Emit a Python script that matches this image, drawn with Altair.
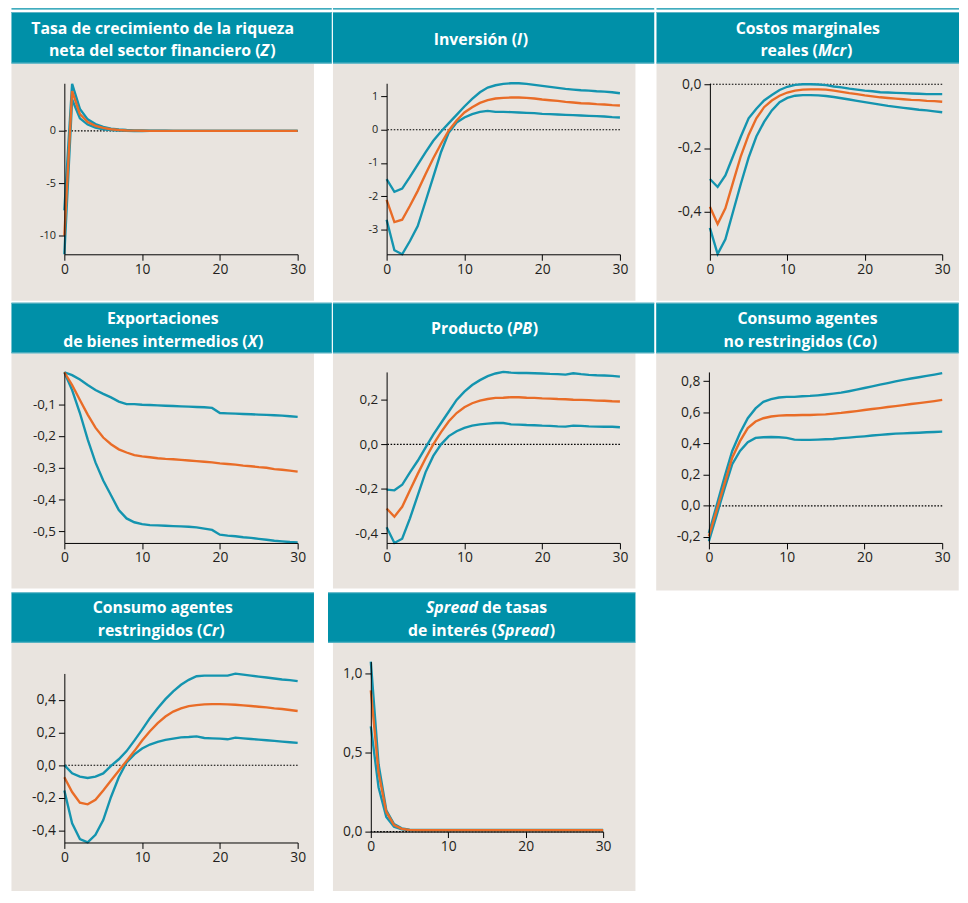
import altair as alt
import pandas as pd

T = list(range(31))

# ---- Tasa de crecimiento de la riqueza neta (Z)
Z_up = [-7.6, 4.5, 2.1, 1.1, 0.65, 0.38, 0.22, 0.13, 0.08, 0.05, 0.03, 0.02, 0.01, 0.01, 0.0, 0.0,
        0.0, 0.0, 0.0, 0.0, 0.0, 0.0, 0.0, 0.0, 0.0, 0.0, 0.0, 0.0, 0.0, 0.0, 0.0]
Z_mean = [-10.0, 3.8, 1.6, 0.85, 0.48, 0.28, 0.15, 0.08, 0.04, 0.02, 0.01, 0.0, 0.0, 0.0, 0.0, 0.0,
          0.0, 0.0, 0.0, 0.0, 0.0, 0.0, 0.0, 0.0, 0.0, 0.0, 0.0, 0.0, 0.0, 0.0, 0.0]
Z_lo = [-11.8, 3.0, 1.2, 0.6, 0.3, 0.15, 0.07, 0.02, 0.0, -0.01, -0.01, 0.0, 0.0, 0.0, 0.0, 0.0,
        0.0, 0.0, 0.0, 0.0, 0.0, 0.0, 0.0, 0.0, 0.0, 0.0, 0.0, 0.0, 0.0, 0.0, 0.0]

# ---- Inversion (I)
I_up = [-1.49, -1.87, -1.77, -1.42, -1.05, -0.68, -0.33, -0.05, 0.20, 0.45, 0.70, 0.93, 1.13, 1.27, 1.34, 1.38,
        1.40, 1.40, 1.38, 1.35, 1.32, 1.29, 1.26, 1.23, 1.21, 1.19, 1.18, 1.16, 1.15, 1.13, 1.10]
I_mean = [-2.11, -2.78, -2.71, -2.29, -1.84, -1.34, -0.86, -0.42, -0.02, 0.28, 0.52, 0.68, 0.81, 0.89, 0.94, 0.96,
          0.97, 0.97, 0.96, 0.94, 0.91, 0.89, 0.87, 0.84, 0.82, 0.80, 0.79, 0.77, 0.76, 0.74, 0.73]
I_lo = [-2.71, -3.63, -3.75, -3.35, -2.90, -2.16, -1.42, -0.67, -0.08, 0.22, 0.37, 0.47, 0.54, 0.57, 0.54, 0.54,
        0.53, 0.52, 0.51, 0.50, 0.48, 0.47, 0.46, 0.45, 0.44, 0.43, 0.42, 0.41, 0.40, 0.38, 0.37]

# ---- Costos marginales reales (Mcr)
M_up = [-0.297, -0.322, -0.286, -0.225, -0.164, -0.107, -0.077, -0.051, -0.034, -0.018, -0.008, -0.002, 0.0, 0.0,
        -0.001, -0.003, -0.007, -0.010, -0.014, -0.017, -0.020, -0.022, -0.025, -0.026, -0.027, -0.028, -0.029,
        -0.030, -0.031, -0.031, -0.031]
M_mean = [-0.384, -0.438, -0.389, -0.307, -0.225, -0.159, -0.107, -0.072, -0.051, -0.036, -0.026, -0.020, -0.017,
          -0.016, -0.016, -0.017, -0.020, -0.024, -0.028, -0.031, -0.035, -0.038, -0.041, -0.043, -0.045, -0.047,
          -0.049, -0.050, -0.052, -0.053, -0.055]
M_lo = [-0.450, -0.532, -0.486, -0.399, -0.312, -0.230, -0.164, -0.118, -0.082, -0.056, -0.043, -0.036, -0.034,
        -0.034, -0.035, -0.037, -0.040, -0.044, -0.048, -0.052, -0.056, -0.060, -0.064, -0.068, -0.071, -0.074,
        -0.077, -0.080, -0.082, -0.085, -0.088]

# ---- Exportaciones de bienes intermedios (X)
X_up = [0.0, -0.009, -0.023, -0.040, -0.056, -0.068, -0.079, -0.092, -0.100, -0.100, -0.102, -0.103, -0.104,
        -0.105, -0.106, -0.107, -0.108, -0.109, -0.110, -0.112, -0.128, -0.129, -0.130, -0.131, -0.132, -0.133,
        -0.134, -0.135, -0.136, -0.138, -0.140]
X_mean = [0.0, -0.040, -0.087, -0.133, -0.174, -0.205, -0.226, -0.242, -0.252, -0.260, -0.264, -0.267, -0.270,
          -0.272, -0.273, -0.275, -0.277, -0.279, -0.281, -0.283, -0.286, -0.288, -0.290, -0.293, -0.295, -0.298,
          -0.300, -0.304, -0.306, -0.309, -0.312]
X_lo = [0.0, -0.056, -0.128, -0.211, -0.283, -0.340, -0.386, -0.433, -0.459, -0.471, -0.477, -0.480, -0.481,
        -0.482, -0.483, -0.484, -0.485, -0.487, -0.491, -0.495, -0.510, -0.513, -0.515, -0.518, -0.520, -0.523,
        -0.526, -0.529, -0.531, -0.533, -0.534]

# ---- Producto (PB)
P_up = [-0.204, -0.207, -0.182, -0.126, -0.074, -0.015, 0.044, 0.096, 0.148, 0.200, 0.237, 0.267, 0.289, 0.307,
        0.319, 0.326, 0.323, 0.321, 0.321, 0.320, 0.319, 0.317, 0.316, 0.314, 0.320, 0.316, 0.313, 0.311, 0.310,
        0.308, 0.305]
P_mean = [-0.289, -0.326, -0.281, -0.207, -0.133, -0.064, 0.0, 0.055, 0.104, 0.141, 0.167, 0.185, 0.197, 0.204,
          0.209, 0.210, 0.212, 0.212, 0.210, 0.209, 0.207, 0.206, 0.204, 0.203, 0.201, 0.200, 0.199, 0.197, 0.196,
          0.194, 0.193]
P_lo = [-0.373, -0.444, -0.425, -0.333, -0.230, -0.126, -0.052, 0.0, 0.037, 0.059, 0.074, 0.084, 0.090, 0.093,
        0.096, 0.096, 0.090, 0.089, 0.087, 0.086, 0.084, 0.083, 0.081, 0.080, 0.084, 0.083, 0.081, 0.080, 0.079,
        0.079, 0.077]

# ---- Consumo agentes no restringidos (Co)
Co_up = [-0.175, 0.004, 0.183, 0.352, 0.467, 0.562, 0.625, 0.667, 0.684, 0.695, 0.699, 0.699, 0.703, 0.705, 0.709,
         0.714, 0.720, 0.726, 0.735, 0.745, 0.756, 0.766, 0.777, 0.787, 0.798, 0.808, 0.817, 0.825, 0.834, 0.842,
         0.851]
Co_mean = [-0.196, -0.027, 0.141, 0.309, 0.415, 0.499, 0.541, 0.562, 0.573, 0.579, 0.581, 0.581, 0.583, 0.583,
           0.585, 0.587, 0.592, 0.596, 0.602, 0.608, 0.615, 0.621, 0.627, 0.634, 0.640, 0.646, 0.653, 0.659, 0.665,
           0.672, 0.680]
Co_lo = [-0.227, -0.059, 0.109, 0.267, 0.352, 0.408, 0.436, 0.440, 0.442, 0.440, 0.436, 0.425, 0.423, 0.423, 0.425,
         0.427, 0.429, 0.434, 0.438, 0.442, 0.446, 0.451, 0.455, 0.459, 0.463, 0.465, 0.467, 0.469, 0.472, 0.474,
         0.476]

# ---- Consumo agentes restringidos (Cr)
Cr_up = [0.0, -0.050, -0.070, -0.078, -0.070, -0.050, -0.004, 0.036, 0.086, 0.150, 0.217, 0.287, 0.347, 0.403,
         0.451, 0.491, 0.521, 0.543, 0.547, 0.547, 0.547, 0.547, 0.559, 0.553, 0.547, 0.541, 0.535, 0.529, 0.523,
         0.519, 0.513]
Cr_mean = [-0.074, -0.164, -0.229, -0.239, -0.211, -0.154, -0.094, -0.034, 0.026, 0.086, 0.150, 0.207, 0.257,
           0.297, 0.327, 0.347, 0.361, 0.367, 0.371, 0.373, 0.373, 0.371, 0.369, 0.365, 0.361, 0.357, 0.353, 0.347,
           0.343, 0.337, 0.331]
Cr_lo = [-0.154, -0.355, -0.451, -0.471, -0.425, -0.335, -0.194, -0.074, 0.016, 0.066, 0.102, 0.126, 0.142, 0.154,
         0.162, 0.170, 0.172, 0.176, 0.166, 0.164, 0.162, 0.158, 0.168, 0.164, 0.160, 0.156, 0.152, 0.148, 0.144,
         0.140, 0.136]

# ---- Spread de tasas de interes (Spread)
S_up = [1.073, 0.425, 0.135, 0.048, 0.021, 0.012, 0.010, 0.010, 0.010, 0.010, 0.010, 0.010, 0.010, 0.010, 0.010,
        0.010, 0.010, 0.010, 0.010, 0.010, 0.010, 0.010, 0.010, 0.010, 0.010, 0.010, 0.010, 0.010, 0.010, 0.010,
        0.010]
S_mean = [0.892, 0.373, 0.124, 0.041, 0.017, 0.010, 0.009, 0.009, 0.009, 0.009, 0.009, 0.009, 0.009, 0.009, 0.009,
          0.009, 0.009, 0.009, 0.009, 0.009, 0.009, 0.009, 0.009, 0.009, 0.009, 0.009, 0.009, 0.009, 0.009, 0.009,
          0.009]
S_lo = [0.664, 0.280, 0.093, 0.031, 0.015, 0.008, 0.008, 0.008, 0.008, 0.008, 0.008, 0.008, 0.008, 0.008, 0.008,
        0.008, 0.008, 0.008, 0.008, 0.008, 0.008, 0.008, 0.008, 0.008, 0.008, 0.008, 0.008, 0.008, 0.008, 0.008,
        0.008]

X_TICKS = [0, 10, 20, 30]

TEAL = "#0090A8"
TEAL_EDGE = "#5FB4C5"
BEIGE = "#E9E4DF"
BLUE = "#1494AF"
ORANGE = "#E96C27"
TXT = "#231F20"
FONT = "Open Sans"

ONE = pd.DataFrame({"k": [0]})


def rect(x1, x2, y1, y2, color):
    return alt.Chart(ONE).mark_rect(color=color).encode(
        x=alt.value(x1), x2=alt.value(x2), y=alt.value(y1), y2=alt.value(y2))


def txt(s, x, y, align, italic=False):
    kw = dict(align=align, baseline="alphabetic", font=FONT, fontWeight="bold", fontSize=16, color="white")
    if italic:
        kw["fontStyle"] = "italic"
    return alt.Chart(ONE).mark_text(**kw).encode(x=alt.value(x), y=alt.value(y), text=alt.value(s))


def title_layers(lines, tx, ty):
    out = []
    for i, ln in enumerate(lines):
        y = ty + 23 * i
        kind = ln[0]
        if kind == "plain":
            out.append(txt(ln[1], tx, y, "center"))
        elif kind == "mid":      # pre | italic | post, junction xa at italic start, wi = italic width
            _, pre, ital, post, xa, wi = ln
            out.append(txt(pre, xa, y, "right"))
            out.append(txt(ital, xa, y, "left", True))
            out.append(txt(post, xa + wi, y, "left"))
        elif kind == "start":    # italic | post, junction xb at italic end
            _, ital, post, xb = ln
            out.append(txt(ital, xb, y, "right", True))
            out.append(txt(post, xb + 4.2, y, "left"))
    return out


def panel(title, up, mean, lo, ydom, yvals, dec, ysize, w, h,
          beige, header, tx, ty, topline=False, zero=True, yrange=None):
    if dec == 0:
        lab = "(datum.value < 0 ? '-' : '') + format(abs(datum.value), 'd')"
    else:
        lab = "(datum.value < 0 ? '-' : '') + replace(format(abs(datum.value), '.1f'), '.', ',')"
    yaxis = alt.Axis(values=yvals, labelExpr=lab, title=None, grid=False, domainColor="black",
                     tickColor="black", tickSize=6, domainWidth=1, tickWidth=1, labelFont=FONT,
                     labelFontSize=ysize, labelColor=TXT, labelPadding=3, labelFlush=False, zindex=1)
    xaxis = alt.Axis(values=X_TICKS, format="d", title=None, grid=False, domainColor="black",
                     tickColor="black", tickSize=6, domainWidth=1, tickWidth=1, labelFont=FONT,
                     labelFontSize=14, labelColor=TXT, labelPadding=2, labelFlush=False, zindex=1)
    xs = alt.Scale(domain=[0, 30], nice=False)
    if yrange is None:
        ys = alt.Scale(domain=ydom, nice=False, zero=False)
    else:
        ys = alt.Scale(domain=ydom, nice=False, zero=False, range=yrange)
    X = alt.X("t:Q", scale=xs, axis=xaxis)
    Y = alt.Y("v:Q", scale=ys, axis=yaxis)

    blue_df = pd.DataFrame({"t": T + T, "v": up + lo, "s": ["sup"] * len(T) + ["inf"] * len(T)})
    mean_df = pd.DataFrame({"t": T, "v": mean})

    layers = [rect(beige[0], beige[1], beige[2], beige[3], BEIGE),
              rect(header[0], header[1], header[2], header[3], TEAL),
              rect(header[0], header[1], header[2], header[2] + 1, TEAL_EDGE),
              rect(header[0], header[1], header[3] - 1, header[3], TEAL_EDGE)]
    if topline:
        layers.append(rect(header[0], header[1], header[2] - 4, header[2] - 2.5, TEAL))
    layers += title_layers(title, tx, ty)
    if zero:
        layers.append(alt.Chart(ONE).mark_rule(color="black", strokeWidth=1.1, strokeDash=[1.6, 1.6]).encode(
            y=alt.Y(datum=0, scale=ys, axis=yaxis)))
    layers.append(alt.Chart(blue_df).mark_line(color=BLUE, strokeWidth=2.4).encode(x=X, y=Y, detail="s:N"))
    layers.append(alt.Chart(mean_df).mark_line(color=ORANGE, strokeWidth=2.4).encode(x=X, y=Y))
    return alt.layer(*layers).properties(width=w, height=h)


p1 = panel([("plain", "Tasa de crecimiento de la riqueza"),
            ("mid", "neta del sector financiero (", "Z", ")", 198.5, 9.8)], Z_up, Z_mean, Z_lo,
           [-11.8, 4.55], [0, -5, -10], 0, 11, 236, 173,
           (-53.5, 252.5, -20, 220), (-53.5, 270.5, -72, -20), 99.5, -50.3, topline=True)
p2 = panel([("mid", "Inversión (", "I", ")", 132.0, 5.8)], I_up, I_mean, I_lo,
           [-3.75, 1.4], [1, 0, -1, -2, -3], 0, 11, 236, 173,
           (-54.3, 251.7, -20, 220), (-54.3, 270.7, -72, -20), 98.7, -38.7, topline=True)
p3 = panel([("plain", "Costos marginales"),
            ("mid", "reales (", "Mcr", ")", 109.3, 29.5)], M_up, M_mean, M_lo,
           [-0.533, 0.003], [0.0, -0.2, -0.4], 1, 14, 235, 173,
           (-54, 252, -20, 220), (-54, 252, -72, -20), 99, -50.3, topline=True)

p4 = panel([("plain", "Exportaciones"),
            ("mid", "de bienes intermedios (", "X", ")", 185.5, 10.3)], X_up, X_mean, X_lo,
           [-0.536, 0.001], [-0.1, -0.2, -0.3, -0.4, -0.5], 1, 13.5, 236, 173,
           (-53.5, 252.5, -19, 219), (-53.5, 270.5, -70, -19), 99.5, -48, zero=False)
p5 = panel([("mid", "Producto (", "PB", ")", 127.4, 20.3)], P_up, P_mean, P_lo,
           [-0.444, 0.326], [0.2, 0.0, -0.2, -0.4], 1, 13.5, 236, 173,
           (-54.3, 251.7, -19, 219), (-54.3, 270.7, -70, -19), 98.7, -38)
p6 = panel([("plain", "Consumo agentes"),
            ("mid", "no restringidos (", "Co", ")", 145.0, 19.8)], Co_up, Co_mean, Co_lo,
           [-0.238, 0.859], [0.8, 0.6, 0.4, 0.2, 0.0, -0.2], 1, 14, 236, 173,
           (-53.3, 252.7, -19, 221), (-53.3, 252.7, -70, -19), 99.7, -48)

p7 = panel([("plain", "Consumo agentes"),
            ("mid", "restringidos (", "Cr", ")", 139.5, 17.2)], Cr_up, Cr_mean, Cr_lo,
           [-0.472, 0.56], [0.4, 0.2, 0.0, -0.2, -0.4], 1, 14, 236, 183,
           (-53.5, 252.5, -19, 232), (-53.5, 252.5, -70, -19), 99.5, -49.3, yrange=[183, 12])
p8 = panel([("start", "Spread", "de tasas", 108.4),
            ("mid", "de interés (", "Spread", ")", 127.4, 53.7)], S_up, S_mean, S_lo,
           [0.0, 1.073], [1.0, 0.5, 0.0], 1, 14, 235, 172,
           (-38.3, 267.7, -19, 232), (-43.3, 267.7, -70, -19), 115, -49.3)

row1 = alt.hconcat(p1, p2, p3, spacing=0)
row2 = alt.hconcat(p4, p5, p6, spacing=0)
row3 = alt.hconcat(p7, p8, spacing=13)

chart = alt.vconcat(row1, row2, row3, spacing=0).properties(
    padding={"left": 3, "top": -6, "right": 0, "bottom": 0}
).configure_view(stroke=None).configure(background="white")

chart.save("out.html", embed_options={"renderer": "svg", "actions": False})
